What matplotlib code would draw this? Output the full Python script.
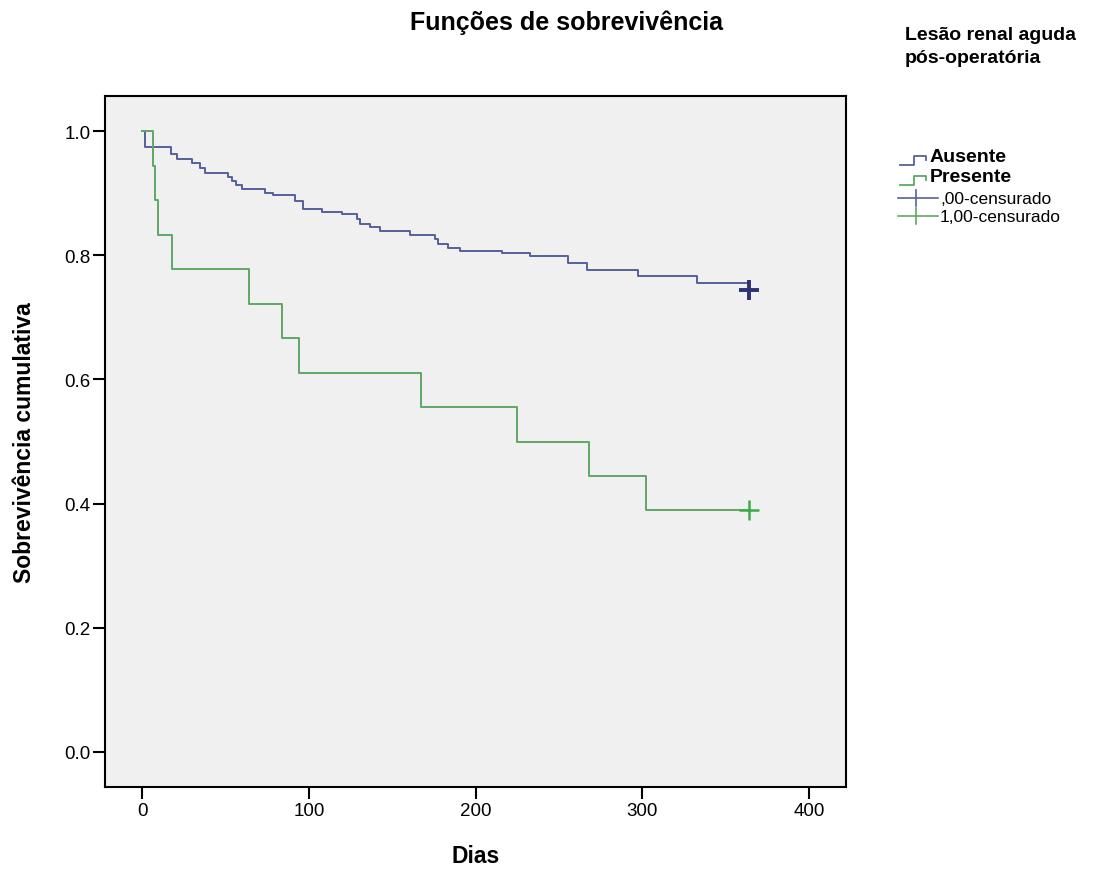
import matplotlib
matplotlib.use("Agg")
import matplotlib.pyplot as plt
from matplotlib.lines import Line2D

plt.rcParams['font.family'] = ['Liberation Sans', 'DejaVu Sans']

# ---- data ----
aus_t = [0, 1.8, 17.4, 20.8, 29.8, 34.8, 37.8, 51.6, 54, 56.4, 59.8, 73.8, 78.6,
         91.8, 96.6, 107.8, 119.8, 128.8, 130.7, 136.7, 142.7, 160.7, 175.7,
         177.5, 183.5, 190.7, 215.7, 232.7, 255.5, 266.7, 297.5, 332.7, 364]
aus_s = [1.0, 0.975, 0.963, 0.955, 0.949, 0.941, 0.933, 0.926, 0.919, 0.913,
         0.906, 0.901, 0.897, 0.887, 0.874, 0.870, 0.866, 0.858, 0.850, 0.845,
         0.839, 0.833, 0.826, 0.818, 0.812, 0.807, 0.803, 0.798, 0.787, 0.776,
         0.766, 0.756, 0.756]
pre_t = [0, 6.4, 7.8, 9.8, 17.8, 64, 84, 94, 167, 224.6, 268, 302, 364]
pre_s = [1.0, 0.944, 0.889, 0.833, 0.778, 0.722, 0.667, 0.611, 0.556, 0.500,
         0.444, 0.389, 0.389]
aus_cens_t = [364]
aus_cens_s = [0.744]
pre_cens_t = [364]
pre_cens_s = [0.389]

x_ticks = [0, 100, 200, 300, 400]
y_ticks = [0.0, 0.2, 0.4, 0.6, 0.8, 1.0]
group_labels = ["Ausente", "Presente"]
censor_labels = [",00-censurado", "1,00-censurado"]

blue = "#56619a"
blue_c = "#2e3275"
green = "#5fa866"
green_c = "#3faa4a"

fig = plt.figure(figsize=(10.97, 8.70), dpi=100)
fig.patch.set_facecolor("white")
ax = fig.add_axes([105/1097, 1 - 788/870, (846-105)/1097, (788-97)/870])
ax.set_facecolor("#f0f0f0")

ax.step(aus_t, aus_s, where="post", color=blue, lw=1.4)
ax.step(pre_t, pre_s, where="post", color=green, lw=1.4)
ax.plot(aus_cens_t, aus_cens_s, marker="+", ms=14, mew=2.8, color=blue_c, ls="none")
ax.plot(pre_cens_t, pre_cens_s, marker="+", ms=14, mew=1.8, color=green_c, ls="none")

ax.set_xlim(-22.2, 422)
ax.set_ylim(-0.0565, 1.0565)
ax.set_xticks(x_ticks)
ax.set_xticklabels([str(v) for v in x_ticks])
ax.set_yticks(y_ticks)
ax.set_yticklabels([f"{v:.1f}" for v in y_ticks])
ax.tick_params(direction="out", length=8.5, width=1.5, labelsize=13.5, pad=2, color="black")
for sp in ax.spines.values():
    sp.set_linewidth(1.5)
    sp.set_color("black")

ax.set_xlabel("Dias", fontsize=16.5, fontweight="bold", labelpad=18)
ax.set_ylabel("Sobrevivência cumulativa", fontsize=16.5, fontweight="bold", labelpad=20)

fig.text(567/1097, 1 - 23/870, "Funções de sobrevivência", ha="center", va="center",
         fontsize=18, fontweight="bold")
fig.text(905/1097, 1 - 47/870, "Lesão renal aguda\npós-operatória", ha="left", va="center",
         fontsize=14, fontweight="bold", linespacing=1.45)

# ---- legend (drawn manually, SPSS style) ----
def fx(px):
    return px / 1097
def fy(py):
    return 1 - py / 870

rows = [
    (group_labels[0], blue, "step", 160),
    (group_labels[1], green, "step", 180),
    (censor_labels[0], blue, "cens", 199),
    (censor_labels[1], green, "cens", 217),
]
for label, col, kind, yc in rows:
    if kind == "step":
        xs = [900, 914, 914, 926, 926]
        ys = [yc + 6, yc + 6, yc - 3, yc - 3, yc + 1]
        fig.add_artist(Line2D([fx(v) for v in xs], [fy(v) for v in ys], color=col, lw=1.3))
        fig.text(fx(930), fy(yc - 3), label, ha="left", va="center", fontsize=14,
                 fontweight="bold")
    else:
        fig.add_artist(Line2D([fx(898), fx(938)], [fy(yc), fy(yc)], color=col, lw=1.2))
        fig.add_artist(Line2D([fx(916), fx(916)], [fy(yc - 8), fy(yc + 8)], color=col, lw=1.2))
        fig.text(fx(940), fy(yc), label, ha="left", va="center", fontsize=12.5)

fig.savefig("out.png", dpi=100, facecolor="white")
